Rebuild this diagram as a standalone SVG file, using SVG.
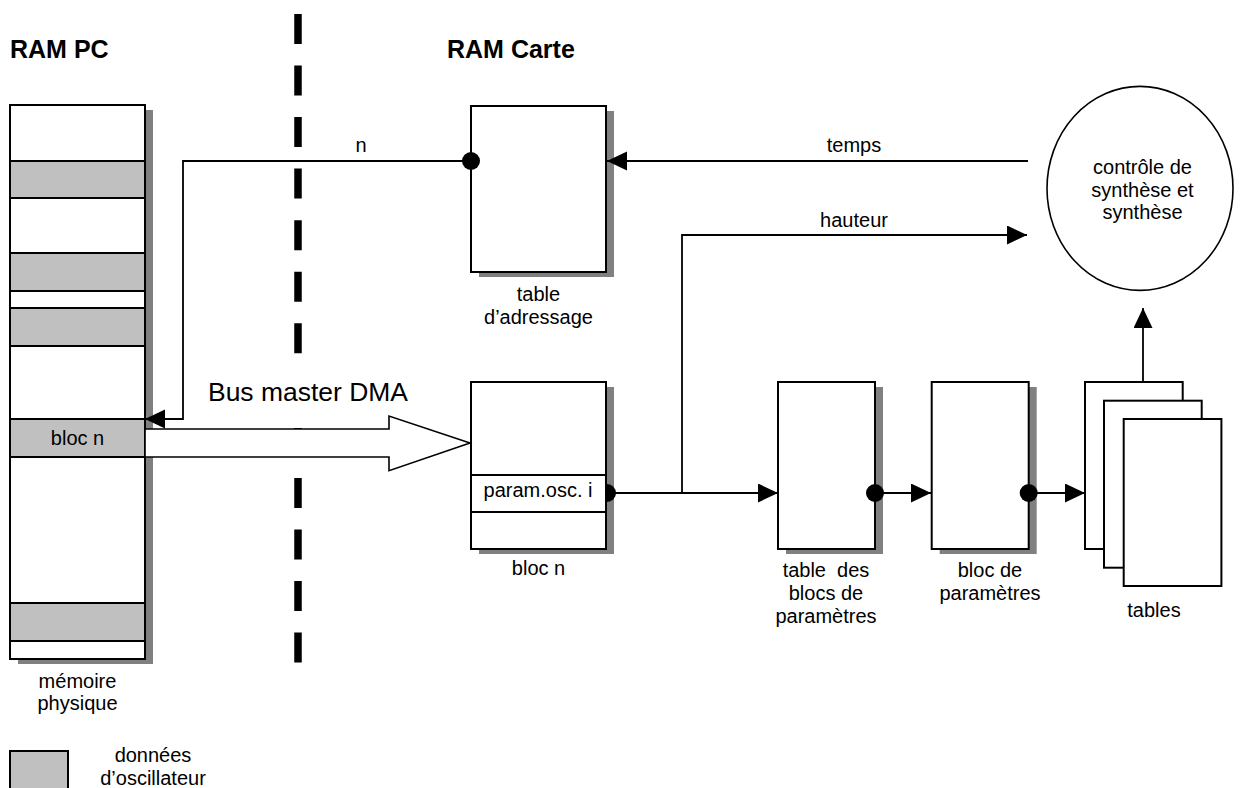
<svg xmlns="http://www.w3.org/2000/svg" width="1247" height="788" viewBox="0 0 1247 788">
  <style>
    .box{fill:#fff;stroke:#000;stroke-width:2}
    .shadow{fill:#808080}
    .gray{fill:#c0c0c0;stroke:#000;stroke-width:2}
    .lbl{font-family:"Liberation Sans",Arial,sans-serif;font-size:20px;fill:#000;text-anchor:middle}
    .title{font-family:"Liberation Sans",Arial,sans-serif;font-size:25px;font-weight:bold;fill:#000}
    .conn{fill:none;stroke:#000;stroke-width:1.8}
    .dot{fill:#000}
  </style>
  <defs>
    <marker id="arrow" markerUnits="userSpaceOnUse" markerWidth="20" markerHeight="20" refX="20" refY="9.5" orient="auto">
      <path d="M0,0 L20,9.5 L0,19 Z" fill="#000"/>
    </marker>
  </defs>

  <rect width="1247" height="788" fill="#fff"/>

  <!-- section titles -->
  <text class="title" x="10" y="58">RAM PC</text>
  <text class="title" x="447" y="58">RAM Carte</text>

  <!-- PC / card boundary -->
  <line x1="298" y1="13.9" x2="298" y2="663" stroke="#000" stroke-width="7.5" stroke-dasharray="30 21.56"/>

  <!-- physical memory column -->
  <g id="memoire">
    <rect class="shadow" x="18" y="110" width="135" height="554"/>
    <rect class="box" x="10" y="105" width="135" height="554"/>
    <rect class="gray" x="10" y="161" width="135" height="37"/>
    <rect class="gray" x="10" y="253" width="135" height="38"/>
    <rect class="gray" x="10" y="308" width="135" height="38"/>
    <rect class="gray" x="10" y="419" width="135" height="38"/>
    <rect class="gray" x="10" y="603" width="135" height="38"/>
    <text class="lbl" x="77.5" y="444.5">bloc n</text>
    <text class="lbl" x="77.5" y="688">mémoire</text>
    <text class="lbl" x="77.5" y="710">physique</text>
  </g>

  <!-- legend -->
  <g id="legende">
    <rect class="gray" x="10" y="751" width="58" height="50"/>
    <text class="lbl" x="153" y="762">données</text>
    <text class="lbl" x="153" y="785">d’oscillateur</text>
  </g>

  <g id="table-adressage">
    <rect class="shadow" x="479" y="111" width="135" height="166"/>
    <rect class="box" x="471" y="106" width="135" height="166"/>
    <text class="lbl" x="538.5" y="301">table</text>
    <text class="lbl" x="538.5" y="324">d’adressage</text>
  </g>

  <g id="controle-synthese">
    <ellipse cx="1140" cy="188.4" rx="93" ry="102" fill="#fff" stroke="#000" stroke-width="1.6"/>
    <text class="lbl" x="1142.5" y="174">contrôle de</text>
    <text class="lbl" x="1142.5" y="196.5">synthèse et</text>
    <text class="lbl" x="1142.5" y="218.5">synthèse</text>
  </g>

  <g id="bloc-n">
    <rect class="shadow" x="479" y="387" width="135" height="167"/>
    <rect class="box" x="471" y="382" width="135" height="167"/>
    <rect class="box" x="471" y="475" width="135" height="37"/>
    <text class="lbl" x="538" y="497">param.osc. i</text>
    <text class="lbl" x="538.5" y="575">bloc n</text>
  </g>

  <g id="table-blocs">
    <rect class="shadow" x="786" y="387" width="97" height="167"/>
    <rect class="box" x="778" y="382" width="97" height="167"/>
    <text class="lbl" x="826" y="577" xml:space="preserve">table  des</text>
    <text class="lbl" x="826" y="600">blocs de</text>
    <text class="lbl" x="826" y="623">paramètres</text>
  </g>

  <g id="bloc-parametres">
    <rect class="shadow" x="939.7" y="387" width="97" height="167"/>
    <rect class="box" x="931.7" y="382" width="97" height="167"/>
    <text class="lbl" x="990" y="577">bloc de</text>
    <text class="lbl" x="990" y="600">paramètres</text>
  </g>

  <g id="tables">
    <rect class="box" x="1085" y="382" width="97.7" height="167"/>
    <rect class="box" x="1104" y="400.7" width="97.7" height="167"/>
    <rect class="box" x="1123.7" y="419" width="97.7" height="167"/>
    <text class="lbl" x="1154" y="617">tables</text>
  </g>

  <!-- connectors -->
  <g id="connecteurs">
    <path class="conn" d="M471,161 H183 V419 H145" marker-end="url(#arrow)"/>
    <circle class="dot" cx="471" cy="161" r="9"/>
    <text class="lbl" x="361" y="152">n</text>

    <path class="conn" d="M1028,161 H607" marker-end="url(#arrow)"/>
    <text class="lbl" x="854" y="152">temps</text>

    <path class="conn" d="M682,493 V235 H1027" marker-end="url(#arrow)"/>
    <text class="lbl" x="854" y="227">hauteur</text>

    <path class="conn" d="M606,493 H778" marker-end="url(#arrow)"/>
    <path class="dot" d="M607,484 A9,9 0 0 1 607,502 Z"/>

    <path class="conn" d="M875,493 H931" marker-end="url(#arrow)"/>
    <circle class="dot" cx="875" cy="493" r="9"/>

    <path class="conn" d="M1028.7,493 H1085" marker-end="url(#arrow)"/>
    <circle class="dot" cx="1028.7" cy="493" r="9"/>

    <path class="conn" d="M1143,382 V308" marker-end="url(#arrow)"/>

    <!-- DMA transfer -->
    <rect x="204" y="372" width="208" height="56" fill="#fff"/>
    <polygon points="145,429 389,429 389,416 470,443 389,470.7 389,457 145,457" fill="#fff" stroke="#000" stroke-width="1.6"/>
    <text class="lbl" x="208" y="401" style="text-anchor:start;font-size:25px" textLength="200" lengthAdjust="spacingAndGlyphs">Bus master DMA</text>
  </g>
</svg>
